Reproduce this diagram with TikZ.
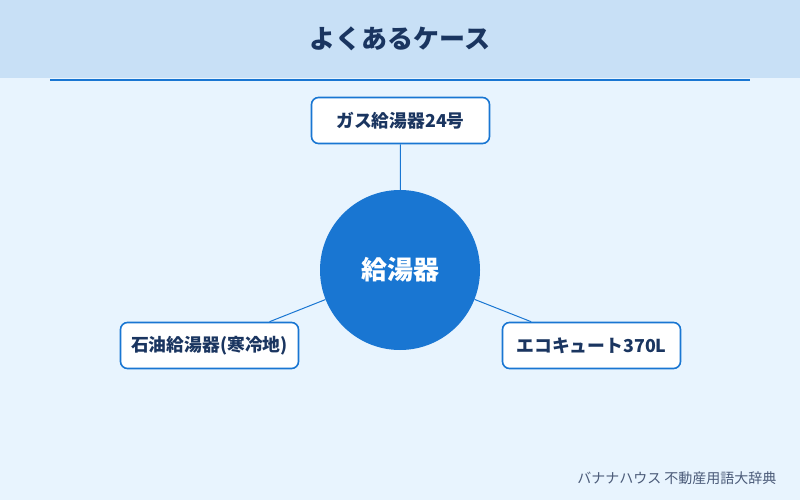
\documentclass[tikz,border=0pt]{standalone}
\usepackage{fontspec}
\setmainfont{Noto Sans CJK JP}
\definecolor{bgc}{HTML}{E8F4FE}
\definecolor{hdr}{HTML}{C8E0F6}
\definecolor{mainblue}{HTML}{1976D2}
\definecolor{navy}{HTML}{1A3560}
\definecolor{foot}{HTML}{4A5A78}
\begin{document}
\begin{tikzpicture}[x=1pt,y=-1pt,
  leaf/.style={draw=mainblue,line width=1.6pt,fill=white,rounded corners=7pt,minimum width=178pt,minimum height=46pt,inner sep=0pt,font=\bfseries\fontsize{17.8}{20}\selectfont,text=navy},
  hub/.style={circle,fill=mainblue,minimum size=160pt,inner sep=0pt,font=\bfseries\fontsize{26}{30}\selectfont,text=white},
  link/.style={draw=mainblue,line width=1pt}]
\fill[bgc] (0,0) rectangle (800,500);
\useasboundingbox (0,0) rectangle (800,500);
\fill[hdr] (0,0) rectangle (800,78);
\draw[mainblue,line width=2pt] (50,80) -- (750,80);
\node[font=\bfseries\fontsize{26}{30}\selectfont,text=navy] (title) at (400,39) {よくあるケース};
\node[hub] (c) at (400,270) {給湯器};
\node[leaf] (t) at (400.5,120.5) {ガス給湯器24号};
\node[leaf] (l) at (209.5,345.5) {石油給湯器(寒冷地)};
\node[leaf] (r) at (591.5,345.5) {エコキュート370L};
\draw[link] (c) -- (t);
\draw[link] (c) -- (l);
\draw[link] (c) -- (r);
\node[anchor=east,text=foot,font=\fontsize{14}{16}\selectfont] (f) at (780,478) {バナナハウス 不動産用語大辞典};
\end{tikzpicture}
\end{document}
